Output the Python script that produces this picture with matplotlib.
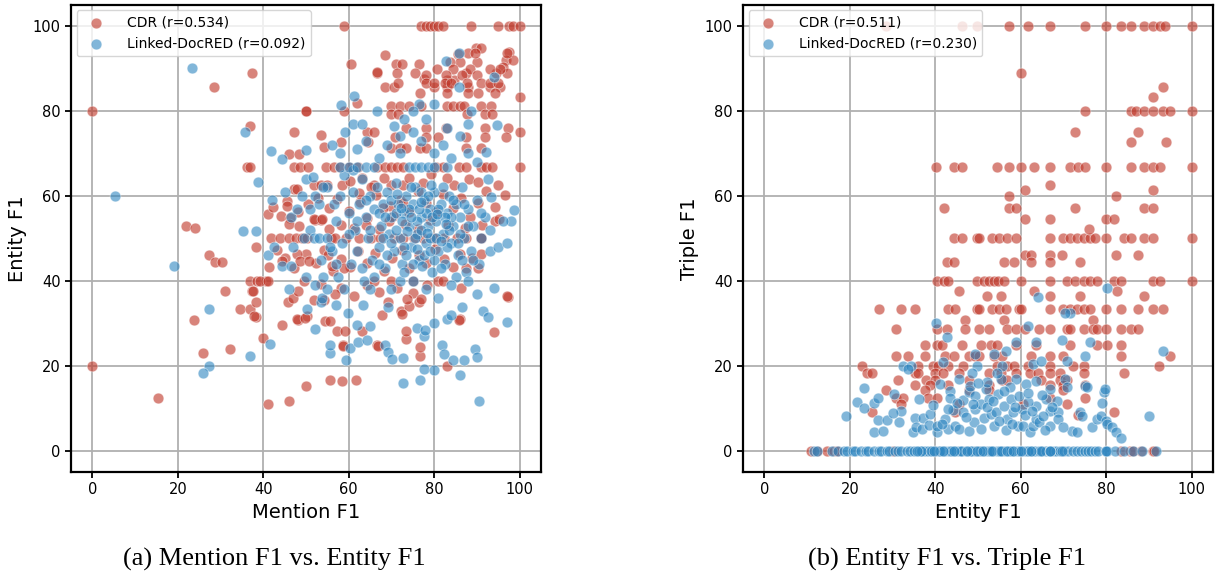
"""
Mention/Entity/Triple F1 scatter comparison (CDR vs Linked-DocRED)
"""

import matplotlib
matplotlib.use('Agg')  # no display
import matplotlib.pyplot as plt
import numpy as np

# ---- data ----
# panel (a): (Mention F1, Entity F1)
cdr_a = [
    # top row
    (59, 100), (77, 100), (78, 100), (79, 100), (80, 100), (81, 100), (82, 100), (88.5, 100),
    (95, 100), (97.5, 100), (98.5, 100), (100, 100),
    # upper region
    (68.6, 93.3), (60.5, 91), (71, 91), (72.5, 91), (76.4, 91), (37.4, 89), (66.6, 89), (71.3, 89),
    (75.6, 89), (28.4, 85.7), (77.5, 87.5), (68.6, 85.7), (70.5, 85.7), (80, 85.7), (83, 85.7),
    (88, 85.7), (93, 85.7), (95.5, 85.7), (84.6, 87.4), (83, 87.4), (87.4, 89), (89.7, 94.8),
    (91, 94.8), (85.6, 93.4), (86, 91.5), (83.6, 91.5), (90, 91.6), (97.6, 93.8), (96.8, 92.1),
    (98.4, 92), (96, 90.4), (94.4, 88.9), (97, 88.9), (100, 83.3), (100, 75), (100, 66.7),
    (0, 80), (50, 80), (59, 80), (88, 93.7), (89.5, 93.7), (97.1, 93.7), (80.6, 90), (84.5, 90),
    (88.4, 90), (93, 90), (95.4, 90), (78, 88.5), (82.7, 88.5), (86.6, 88.5), (90, 88.5),
    (71.5, 86.6), (78, 86.6), (80, 86.6), (82.5, 86.6), (84, 86.6), (87.7, 86.6), (91, 86.6),
    (93, 86.6), (95, 86.6), (76.7, 84.3), (82.9, 84.3), (88, 84.3), (90.3, 84.3), (94.3, 84.3),
    (70, 81.2), (72, 81.2), (74.2, 81.2), (77, 81.2), (83, 81.2), (84.5, 81.2), (86, 81.2),
    (87, 81.2), (91, 81.2), (93.3, 81.2), (70, 79.2), (71.5, 79.2), (87.6, 79.2), (92, 79.2),
    (93.5, 79.2), (73.4, 76.1), (78, 76.1), (82.7, 76.1), (92, 76.1), (97.2, 76.1), (70.8, 73.8),
    (78, 73.8), (81, 73.8), (87.4, 73.8), (92, 73.8), (96.8, 73.8), (70, 71.4), (72, 71.4),
    (73.5, 71.4), (76.6, 71.4), (78, 71.4), (87.4, 71.4), (91, 71.4),
    (62, 82), (49.9, 80.1), (37, 76.5), (47.1, 75), (53.4, 74.3), (64.3, 75), (65.9, 75),
    (54.1, 71.5), (58.1, 72.7), (64.4, 72.7), (46, 69.9), (48.3, 69.9), (66.7, 89.1),
    # 66.7 row
    (36.1, 66.7), (36.9, 66.7), (47.3, 66.7), (48.5, 66.7), (50.4, 66.7), (54.7, 66.7), (56.5, 66.7),
    (58, 66.7), (60, 66.7), (62.2, 66.7), (66.6, 66.7), (68.5, 66.7), (70, 66.7), (71.3, 66.7),
    (72.8, 66.7), (80.5, 66.7), (82, 66.7), (85.8, 66.7), (87.4, 66.7), (90.9, 66.7), (92.2, 66.7),
    (93.6, 66.7),
    (47.1, 61.6), (51.8, 62.5), (53.5, 62.5), (54.9, 62.5), (58.5, 62.6), (62.4, 60.8), (66, 62.5),
    (70, 62.5), (72.7, 62.5), (84.7, 62.5), (94.9, 62.5), (41, 55.8), (45.6, 58.8), (69.6, 57.6),
    (72, 59),
    # 50 row and middle
    (41.9, 50), (44, 50), (46, 50), (47.6, 50), (49, 50), (50.3, 50), (55.8, 50), (56.9, 50),
    (59.3, 50), (62.3, 50), (65.1, 50), (67.4, 50), (70.5, 50), (72.8, 50), (75.2, 50), (77.3, 50),
    (80, 50), (82.2, 50), (85.4, 50), (87.5, 50), (90.9, 50),
    (42.3, 57.4), (44.1, 55.2), (48.2, 56.3), (50.4, 58.1), (52.7, 59.6), (55.3, 57.2), (57.2, 59.3),
    (60.1, 56.4), (62.6, 58.5), (64.2, 54.7), (66.3, 60.2), (68.1, 57.1), (70.4, 55.3), (72.6, 58.4),
    (74.1, 56.2), (76.3, 61.2), (78.2, 58.3), (80.4, 56.1), (82.1, 60.4), (84.3, 57.2), (86.2, 59.4),
    (88.4, 55.1), (90.2, 58.3), (92.1, 61.2), (94.3, 57.5), (96.6, 60.1),
    (45.2, 45.3), (47.3, 43.1), (50.1, 46.4), (52.4, 44.2), (54.1, 47.2), (56.3, 42.4), (58.2, 45.1),
    (60.4, 43.3), (62.2, 47.1), (64.3, 44.2), (66.1, 46.5), (68.3, 42.2), (70.2, 45.4), (72.4, 47.3),
    (74.2, 43.1), (76.4, 46.2), (78.1, 44.3), (80.3, 47.4), (82.2, 45.2), (84.4, 43.3), (86.1, 46.4),
    (55.4, 52.2), (58.2, 53.1), (61.3, 52.4), (64.1, 53.2), (67.2, 52.1), (69.4, 54.2), (73.1, 53.4),
    (76.3, 52.2), (79.1, 54.3), (83.2, 53.1), (87.3, 52.4), (91.1, 53.2), (94.2, 54.1),
    (60.2, 63.4), (63.1, 64.2), (65.3, 62.1), (68.2, 64.3), (74.1, 64.2), (77.3, 63.1), (79.2, 65.1),
    (83.1, 64.3), (88.2, 64.1), (90.3, 63.2),
    (58.1, 38.2), (61.3, 36.4), (64.2, 39.1), (67.1, 37.3), (69.2, 35.1), (71.3, 38.2), (75.1, 37.2),
    (78.3, 39.1), (86.2, 38.3),
    (37, 40), (38.5, 40), (40.6, 40), (49.5, 40), (66, 40), (70, 40), (75, 40), (81, 40), (82, 40),
    # lower left
    (0, 20), (15.4, 12.5), (23.7, 30.8), (26, 23.1), (32.3, 24), (31.1, 37.5), (34.6, 33.3),
    (36.9, 33.3), (37.3, 37.5), (38.4, 35), (38.3, 31.5), (40, 26.6), (41, 11), (46.1, 11.7),
    (50, 15.3), (55.7, 16.6), (61.6, 16.6), (44.3, 29.6), (48.2, 30.8), (50.2, 31.6), (39.2, 40),
    (41.2, 40), (76.6, 22.2), (73.5, 26.2), (66.7, 25), (58.7, 25), (67.8, 31.9), (86.1, 31),
    (93.9, 28), (97.2, 36.2), (83.1, 20), (72.3, 32.8), (74, 34), (76.5, 35), (95.1, 54.6),
    (90.9, 50.1), (88.8, 45.4), (91, 46.3), (87.4, 43), (90.2, 43), (97, 36.5), (85.8, 30.7),
    (73.5, 28.2), (76.6, 24.4), (73.6, 35.8), (76.8, 35.8), (72.5, 32.2),
    (45.8, 35), (47, 36), (51.8, 35.6), (54.2, 35.6), (56.9, 37), (48, 31), (49.8, 31.3), (54.5, 30.5),
    (55.7, 30.5), (57.2, 28.2), (59.1, 28.2), (63, 28.2), (66.9, 24.7), (58.6, 24.7), (58.5, 16.5),
    (37.8, 31.8), (48.1, 37.5), (37.6, 37.5), (53.5, 39.3), (41.4, 43.3), (44.4, 44.6), (47.9, 46.3),
    (48.7, 44.6), (50.6, 44.6), (55.2, 46), (56, 43.5), (58.9, 43), (43.2, 47.3), (38.2, 48),
    (22, 53), (24, 52.5), (27.2, 46.2), (28.7, 44.5), (30.3, 44.5), (45.5, 57.7), (46.3, 54.8),
    (47.8, 61.6), (52, 54.3), (53.6, 54.3), (46, 53.4), (48.4, 52.8), (51.8, 54.6), (53.7, 54.6),
]

linked_a = [
    # outliers
    (23.3, 90.1), (5.2, 59.9), (19, 43.5), (35.7, 75), (38.8, 63.2), (41.8, 70.5), (44.4, 68.7),
    (50, 70.8), (50, 64), (51.6, 64.5), (35.3, 51.7), (38.2, 51.8), (41, 46.2), (42.5, 47.9),
    (44.4, 43.4), (46.4, 43.4), (46.4, 55), (51, 57), (51, 52), (58.1, 81.4), (61.2, 83.6),
    (59.2, 75), (61, 77), (63, 77), (66.7, 80), (70.5, 76.5), (72, 74), (76.4, 81.7), (79.9, 81.7),
    (82.7, 91.7), (85.8, 85.7), (85.8, 93.6), (94, 87.9), (94.8, 76.6), (88.7, 80), (92.2, 70.3),
    (98, 54), (98.6, 56.6), (93.3, 59.8), (92.5, 64),
    # lower part
    (27.2, 33.3), (27.2, 20), (25.8, 18.4), (37, 22.2), (41.6, 25.1), (50.2, 33.3), (52, 28.6),
    (53.4, 35), (53.8, 36), (57.1, 34.3), (55.7, 23), (55.7, 25), (59.4, 21.3), (60.2, 24.2),
    (59.8, 32.5), (62, 29.6), (62.2, 25.7), (63.3, 34.3), (64.2, 26), (64.9, 29.3), (68.4, 25),
    (69.2, 23.2), (70.1, 21.5), (69.2, 33.9), (72.7, 21.8), (72.6, 15.9), (76.6, 16.6),
    (77.6, 19.2), (79.9, 19), (81.8, 25), (82.4, 22.8), (84.3, 21.3), (86.9, 21.3), (86.1, 17.9),
    (90.5, 11.8), (89.6, 24), (90, 22), (93.9, 38.2), (97, 30.2), (91.5, 33), (92.5, 31.5),
    (76, 29), (77.5, 27), (77.8, 28.5), (80, 30), (86.6, 33.9), (83, 31), (84, 32),
    # dense cluster
    (55, 62), (56.5, 58), (57, 54), (58, 60), (58.5, 49), (59, 65), (60, 56), (60.5, 44), (61, 61),
    (61.5, 52), (62, 47), (62.5, 58), (63, 64), (63.5, 40), (64, 55), (64.5, 50), (65, 60),
    (65.5, 45), (66, 57), (66.5, 62), (67, 48), (67.5, 53), (68, 58), (68.5, 43), (69, 61),
    (69.5, 51), (70, 55), (70.5, 47), (71, 63), (71.5, 58), (72, 50), (72.5, 44), (73, 56),
    (73.5, 60), (74, 53), (74.5, 48), (75, 58), (75.5, 62), (76, 51), (76.5, 45), (77, 55),
    (77.5, 59), (78, 49), (78.5, 53), (79, 57), (79.5, 42), (80, 61), (80.5, 54), (81, 47),
    (81.5, 58), (82, 51), (82.5, 44), (83, 56), (83.5, 60), (84, 49), (84.5, 53), (85, 58),
    (85.5, 46), (86, 55), (86.5, 62), (87, 50), (87.5, 42), (88, 57), (88.5, 47), (89, 53),
    (90, 59), (90.5, 44), (91, 50), (92, 55), (93, 47),
    (56, 47), (57.5, 41), (59, 38), (60, 51), (61, 66), (62, 54), (63, 43), (64, 59), (65, 52),
    (66, 41), (67, 56), (68, 50), (69, 46), (70, 59), (71, 52), (72, 40), (73, 48), (74, 57),
    (75, 44), (76, 54), (77, 61), (78, 56), (79, 50), (80, 45), (81, 57), (82, 62), (83, 48),
    (84, 55), (85, 41), (86, 51), (87, 58), (88, 53), (89, 45), (91, 56), (93, 52), (95, 48),
    (96, 54), (97, 49),
    (65, 38), (67, 44), (68.5, 55), (70, 49), (71, 56), (72.5, 54), (73.5, 46), (74.5, 62),
    (75.5, 50), (76.5, 57), (77.5, 46), (78.5, 60), (79.5, 55), (80.5, 50), (81.5, 43), (82.5, 55),
    (83.5, 52), (84.5, 59), (85.5, 49), (86.5, 45), (75, 40), (78, 38), (81, 36), (84, 39),
    (70, 38), (88, 40), (90, 37), (73, 42), (77, 52), (79, 47),
    (58, 66.7), (60, 66.7), (62, 66.7), (64, 66.7), (66, 66.7), (74, 66.7), (75.5, 66.7),
    (77, 66.7), (78.5, 66.7), (80, 66.7), (83, 66.7),
    (49.5, 50), (51.8, 50), (53, 50), (55, 50),
    (56, 72), (58, 70), (62, 71), (64, 73), (67, 69), (69, 72), (72, 70), (75, 75), (77, 73),
    (80, 70), (82, 72), (84, 69), (86, 74), (88, 70), (90, 68), (73, 78), (75, 80), (78, 78),
    (83, 76), (88, 77),
    (52, 60), (53, 58), (54, 62), (53.5, 45), (54, 41), (55.5, 48), (57, 44), (48, 57), (49, 60),
    (50, 41), (52, 39), (46, 38), (47, 48), (55, 38), (42, 59), (45, 61),
    # extra density in the core
    (72.3, 57.2), (74.6, 55.1), (76.8, 58.6), (78.4, 51.2), (80.6, 55.8), (82.8, 53.4),
    (73.7, 51.8), (75.9, 47.5), (71.2, 60.4), (79.3, 62.6), (81.7, 49.3), (77.1, 43.6),
]

# panel (b): (Entity F1, Triple F1)
cdr_b_rows = {
    100: [28.5, 46.2, 49.8, 57.3, 61.7, 66.8, 75.1, 80, 83.4, 85.8, 88.9, 90.9, 92.5, 93.7, 100],
    80: [75.1, 85.8, 87, 88.9, 90.9, 93.3, 94.9, 100],
    66.7: [40.1, 44.5, 46.2, 54.5, 57.3, 60.1, 63.2, 66.8, 71.5, 73.5, 75.1, 80, 85.8, 88.9,
           90.9, 92.5, 100],
    57.1: [42.1, 57.3, 58.9, 72.7, 88.9, 90.9],
    54.5: [61, 66.8, 80, 81.8],
    50: [44.5, 46.2, 49.8, 50.2, 53.4, 54.9, 56.9, 58.9, 66.8, 70, 71.5, 73.1, 74.7, 76.3, 77.5,
         80, 84.2, 85.8, 88.9, 90.9, 100],
    46.2: [61, 62.5, 66.8, 69.6, 82.4, 87.5],
    44.4: [42.7, 44.5, 56.1, 58.5, 62.5, 66.8, 73.8],
    40: [40.3, 42.1, 43.1, 49.8, 51.4, 52.6, 53.8, 54.8, 56.1, 60.1, 66.8, 70.8, 72.7, 74.7, 76.3,
         77.9, 81.8, 83.4, 90.9, 92.5, 100],
    33.3: [26.9, 32, 35.2, 43.1, 44.7, 49.8, 50.2, 53.4, 54.9, 56.5, 59.7, 60.1, 66.8, 70, 71.5,
           73.1, 74.7, 76.3, 80, 83.4, 87.4, 90.9, 93.3],
    30.8: [47, 56.1, 76.9],
    28.6: [30.8, 40.3, 42.7, 47, 50.2, 52.6, 56.9, 58.9, 60.9, 64.4, 66.8, 70.8, 71.5, 74.7, 76.9,
           77.9, 80, 83.4, 85.8, 87.5],
    25: [37.5, 40.3, 41.5, 46.2, 50.6, 53, 54.5, 58.9, 63.6, 71.5, 77.9, 80.2, 83.4],
    22.2: [30.8, 33.6, 37.5, 42.3, 44.3, 47.8, 49.4, 50.2, 53.8, 55.7, 62.5, 66.8, 70, 83.4, 94.9],
    20: [22.9, 36, 39.5, 40.7, 43.1, 46.6, 54.5, 56.9, 58.5, 61.7, 66.8, 72.3, 74.7, 92.3],
    18.2: [24.1, 25.1, 35.2, 36, 39.9, 41.9, 45.5, 52.6, 55.3, 58.9, 62.1, 64, 66.8, 69.2, 74.7,
           84.2],
    16.7: [31.2, 37.9, 39.9, 47.8, 55.7, 56.9, 64.8, 69.2, 70.8],
    15.4: [35.2, 38.7, 43.1, 52.6, 66.8, 70, 75.1],
    14.3: [28.5, 37.5, 47.8, 52.6, 70],
    12.5: [30.8, 32.4, 38.3, 40.3, 66.8, 75.1],
    11.1: [32, 45.5, 60.5, 70.8],
    9.1: [25.1, 44.7, 81.8],
    0: [11, 12.3, 14.6, 16.2, 17, 30, 40, 50, 60, 83.4, 85.6, 86.2, 88.1, 90.9, 91.3],
}
cdr_b_extra = [
    (60.1, 88.9), (93.3, 85.7), (90.9, 83.3), (72.7, 75), (87.5, 75), (85.8, 72.7), (94.1, 72.7),
    (66.8, 62.5), (61, 61.5), (90.9, 61.5), (57.3, 60), (82.4, 60), (76.1, 52.2),
    (45.5, 37.5), (52.2, 36.4), (55.3, 36.4), (63.2, 37.5), (66.8, 36.4), (73.8, 36.4),
    (82.6, 37.5), (88.9, 36.4), (73.5, 8.3),
]

# Linked-DocRED points sitting on Triple F1 = 0 (very dense band)
linked_b_zero = [
    11.6, 12.4, 15.8, 17.3, 18.6, 19.4, 20.7, 21.3, 22.6, 23.8, 24.3, 25.6, 26.8, 27.4, 28.7,
    29.2, 30.6, 31.3, 32.1, 33.4, 34.2, 35.1, 36.3, 36.9, 37.6, 38.4, 39.2, 40.1, 40.8, 41.7,
    42.4, 43.3, 44.1, 44.8, 45.6, 46.3, 47.2, 47.9, 48.6, 49.4, 50.2, 50.9, 51.6, 52.3, 53.1,
    53.6, 54.4, 55.1, 55.7, 56.3, 57.1, 57.8, 58.4, 59.2, 59.9, 60.6, 61.3, 62.1, 62.7, 63.4,
    64.2, 65.1, 66.0, 66.8, 67.6, 68.3, 69.1, 70.2, 71.1, 72.3, 73.2, 74.1, 75.0, 75.7, 76.4,
    77.3, 78.2, 80.0, 80.3, 82.1, 84.2, 86.4, 88.3, 91.6,
    36.7, 38.9, 41.2, 43.8, 46.1, 48.3, 50.5, 52.8, 54.9, 57.4, 59.6, 61.8, 64.7, 66.8, 69.6,
    49.7, 51.2, 53.4, 55.3, 56.7, 58.1, 60.1, 62.4, 66.8, 80.0, 44.5, 47.5, 41.9, 39.7, 35.8,
]
linked_b = [
    (80.2, 38.3), (64, 36.3), (40.1, 30), (61.7, 29.4), (58.9, 25.5), (63.6, 25.5), (42.8, 26.7),
    (71.5, 32.5), (70.4, 32.5), (69.6, 26.1), (76.3, 25.7), (93.3, 23.4), (49.4, 22.7),
    (53.8, 22.7), (56.5, 23.5), (75.1, 22.2), (70.8, 21.2), (62.8, 20.4), (64.8, 21), (32.4, 20),
    (34.4, 20), (41.7, 20.8), (23.3, 14.7), (19, 8.2), (21.6, 11.5), (23.3, 10), (25.7, 11.3),
    (26.7, 12.5), (25.7, 4.3), (27.8, 4.7), (26.7, 7.2), (28.6, 7.2), (30.4, 13.3), (32, 9.4),
    (31.6, 6.7), (33.6, 19.2), (34.9, 4.3), (35.2, 7.8), (35.6, 5.5), (36.8, 5), (37.2, 7.7),
    (38.7, 8.6), (38.5, 6), (40.3, 4.3), (40.3, 5.9), (41.1, 15.7), (42.3, 7.5), (43.1, 5.1),
    (43.5, 14), (43.5, 12.5), (44.7, 5.9), (45.5, 5.1), (45.5, 16.9), (46.6, 12), (46.6, 9),
    (47.8, 4.7), (47.8, 13.7), (48.2, 15.3), (49, 6.7), (49.4, 9.8), (49.4, 12.9), (49.8, 20),
    (50.6, 11), (51.4, 7.8), (51.8, 14.5), (52.6, 12.2), (53, 8.6), (53.8, 5.9), (54.2, 9),
    (55.3, 16.9), (55.7, 20), (56.1, 10.6), (56.9, 7.5), (57.7, 12.2), (58.1, 9), (58.9, 16.9),
    (59.3, 5.9), (59.7, 12.9), (60.5, 5.9), (61.3, 15.7), (62.1, 4.3), (62.9, 5.9), (63.6, 7.5),
    (63.6, 10.6), (63.6, 16.5), (64.4, 6.7), (66, 12.2), (66.8, 14.5), (66.8, 9.4), (66.8, 5.9),
    (68.4, 11.8), (68.8, 9), (68.8, 7.5), (70.4, 16.9), (70.8, 14.9), (71.9, 4.7), (73.1, 4.3),
    (73.9, 9), (74.3, 8.2), (75.1, 15.3), (75.5, 14.9), (76.7, 5.5), (77.9, 7.5), (78.7, 8.2),
    (79.1, 11.3), (79.5, 13.7), (79.8, 14.5), (80, 7.1), (80.2, 6.3), (81.4, 5.5), (82.2, 4.3),
    (83.4, 3), (90.1, 8.2), (52.2, 10.2), (54.8, 13.3), (56.5, 4.9), (57.5, 15.1), (60.2, 9.8),
    (61.8, 11.5), (65.2, 8.1), (48.5, 18.3), (44.2, 9.6), (39.5, 10.8), (36.2, 12.1), (30.2, 8.8),
    # extra density in the lower cluster
    (47.2, 7.9), (48.9, 10.9), (50.8, 5.2), (52.1, 16.2), (53.6, 11.8), (55.0, 7.0), (56.2, 14.0),
    (57.9, 6.2), (58.6, 10.4), (60.9, 8.3), (61.6, 13.6), (62.6, 9.4), (64.9, 13.2), (65.6, 4.8),
    (67.4, 10.3), (69.8, 5.5), (45.1, 11.3), (42.9, 9.9), (41.6, 6.3), (50.1, 15.9), (54.4, 18.2),
]

# legend labels / colours
labels_a = ["CDR (r=0.534)", "Linked-DocRED (r=0.092)"]
labels_b = ["CDR (r=0.511)", "Linked-DocRED (r=0.230)"]
captions = ["(a) Mention F1 vs. Entity F1", "(b) Entity F1 vs. Triple F1"]
color_cdr = "#c0392b"
color_linked = "#2e86c1"

# ---- build arrays ----
cdr_a = np.array(cdr_a)
linked_a = np.array(linked_a)
cdr_b = [(x, y) for y, xs in cdr_b_rows.items() for x in xs] + cdr_b_extra
cdr_b = np.array(cdr_b)
linked_b = np.array([(x, 0) for x in linked_b_zero] + linked_b)

fig = plt.figure(figsize=(12.16, 5.79), dpi=100)
ax1 = fig.add_axes([0.0584, 0.185, 0.3865, 0.8066])
ax2 = fig.add_axes([0.611, 0.185, 0.3865, 0.8066])

panels = [
    (ax1, cdr_a, linked_a, labels_a, "Mention F1", "Entity F1"),
    (ax2, cdr_b, linked_b, labels_b, "Entity F1", "Triple F1"),
]

for ax, cdr, linked, labels, xl, yl in panels:
    ax.scatter(cdr[:, 0], cdr[:, 1], s=60, color=color_cdr, alpha=0.62,
               edgecolors="white", linewidths=0.5, label=labels[0], zorder=3)
    ax.scatter(linked[:, 0], linked[:, 1], s=60, color=color_linked, alpha=0.6,
               edgecolors="white", linewidths=0.5, label=labels[1], zorder=3)
    ax.set_xlim(-5, 105)
    ax.set_ylim(-5, 105)
    ax.set_xticks([0, 20, 40, 60, 80, 100])
    ax.set_yticks([0, 20, 40, 60, 80, 100])
    ax.tick_params(labelsize=10.5, width=1.3, length=4)
    ax.grid(True, color="#b0b0b0", linewidth=1.3, zorder=0)
    ax.set_axisbelow(True)
    for sp in ax.spines.values():
        sp.set_linewidth(1.6)
    ax.set_xlabel(xl, fontsize=14)
    ax.set_ylabel(yl, fontsize=14)
    ax.legend(loc="upper left", fontsize=10, borderaxespad=0.4, handletextpad=1.2)

# subfigure captions
fig.text(274 / 1216, 0.033, captions[0], ha="center", va="center",
         family="Liberation Serif", fontsize=19)
fig.text(947 / 1216, 0.033, captions[1], ha="center", va="center",
         family="Liberation Serif", fontsize=19)

fig.savefig("out.png", dpi=100)
plt.close(fig)
